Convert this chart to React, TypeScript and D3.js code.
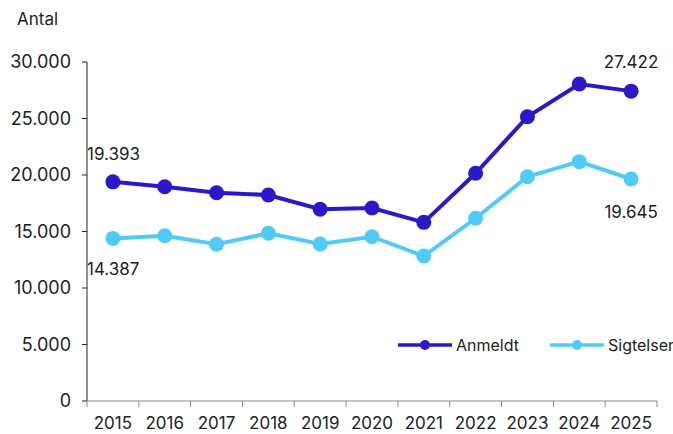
import React from "react";
import * as d3 from "d3";

const years = ["2015", "2016", "2017", "2018", "2019", "2020", "2021", "2022", "2023", "2024", "2025"];
const anmeldt = [19393, 18960, 18430, 18230, 16970, 17080, 15810, 20150, 25160, 28050, 27422];
const sigtelser = [14387, 14630, 13870, 14840, 13890, 14540, 12830, 16170, 19850, 21180, 19645];
const yTicks = [0, 5000, 10000, 15000, 20000, 25000, 30000];

const seriesNames = ["Anmeldt", "Sigtelser"];
const colors = ["#2B19C9", "#50CBF8"];

const fmt = (v: number) => d3.format(",")(v).replace(/,/g, ".");

const App = () => {
  const width = 673;
  const height = 434;
  const left = 87;
  const right = 657;
  const top = 62;
  const bottom = 401;

  const x = d3.scaleBand().domain(years).range([left, right]);
  const y = d3.scaleLinear().domain([0, 30000]).range([bottom, top]);
  const cx = (yr: string) => (x(yr) as number) + x.bandwidth() / 2;

  const line = d3
    .line<number>()
    .x((_, i) => cx(years[i]))
    .y((d) => y(d));

  const all = [anmeldt, sigtelser];
  const font = "Inter, 'Liberation Sans', Arial, sans-serif";
  const last = years.length - 1;

  return (
    <svg width={width} height={height} style={{ position: "absolute", left: 0, top: 0 }} fontFamily={font}>
      <text x={17} y={25} fontSize={17} fill="#222">Antal</text>

      {/* y axis */}
      <line x1={left} x2={left} y1={top} y2={bottom} stroke="#222" strokeWidth={1} />
      {yTicks.map((t) => (
        <g key={t}>
          <line x1={left - 5} x2={left} y1={y(t)} y2={y(t)} stroke="#222" />
          <text x={71} y={y(t)} dy="0.36em" textAnchor="end" fontSize={18} fill="#222">
            {fmt(t)}
          </text>
        </g>
      ))}

      {/* x axis */}
      <line x1={left} x2={right} y1={bottom} y2={bottom} stroke="#888" strokeWidth={1.2} />
      {years.map((yr, i) => (
        <line key={"t" + yr} x1={left + i * x.bandwidth()} x2={left + i * x.bandwidth()} y1={bottom} y2={bottom + 6} stroke="#888" />
      ))}
      <line x1={right} x2={right} y1={bottom} y2={bottom + 6} stroke="#888" />
      {years.map((yr) => (
        <text key={yr} x={cx(yr)} y={429} textAnchor="middle" fontSize={17} fill="#222">
          {yr}
        </text>
      ))}

      {all.map((s, k) => (
        <g key={k}>
          <path d={line(s) as string} fill="none" stroke={colors[k]} strokeWidth={4} />
          {s.map((v, i) => (
            <circle key={i} cx={cx(years[i])} cy={y(v)} r={7.5} fill={colors[k]} />
          ))}
        </g>
      ))}

      {/* data labels */}
      <text x={87} y={y(anmeldt[0]) - 22} fontSize={17} fill="#222">{fmt(anmeldt[0])}</text>
      <text x={87} y={y(sigtelser[0]) + 37} fontSize={17} fill="#222">{fmt(sigtelser[0])}</text>
      <text x={cx(years[last])} y={y(anmeldt[last]) - 23} textAnchor="middle" fontSize={17} fill="#222">{fmt(anmeldt[last])}</text>
      <text x={cx(years[last])} y={y(sigtelser[last]) + 39} textAnchor="middle" fontSize={17} fill="#222">{fmt(sigtelser[last])}</text>

      {/* legend */}
      {seriesNames.map((n, k) => {
        const lx = 398 + k * 152;
        return (
          <g key={n}>
            <line x1={lx} x2={lx + 54} y1={345} y2={345} stroke={colors[k]} strokeWidth={3.5} />
            <circle cx={lx + 27} cy={345} r={5} fill={colors[k]} />
            <text x={lx + 58} y={345} dy="0.36em" fontSize={16} fill="#222">{n}</text>
          </g>
        );
      })}
    </svg>
  );
};

export default App;
